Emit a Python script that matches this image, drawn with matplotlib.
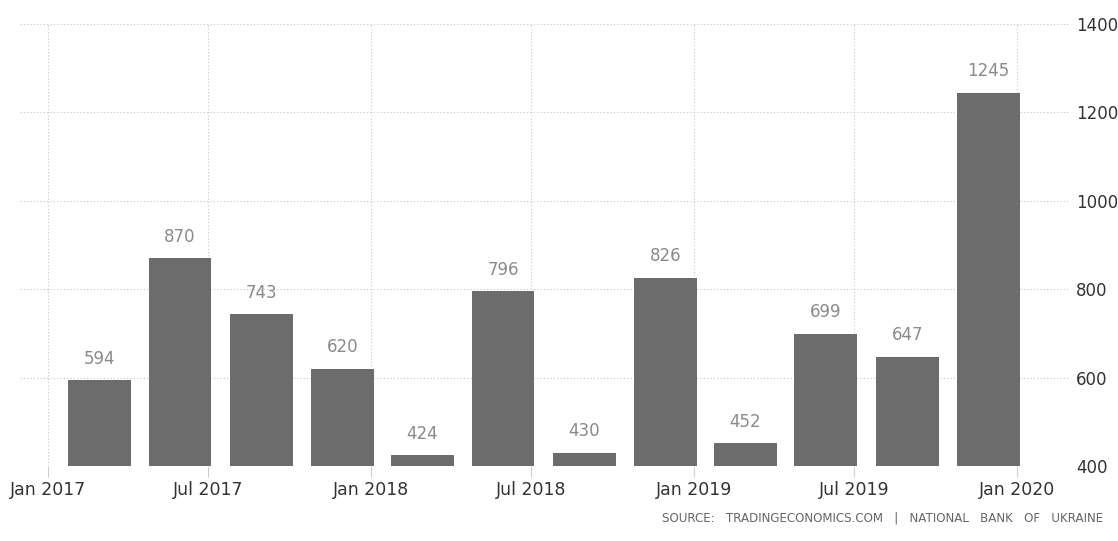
import datetime as dt
import matplotlib
matplotlib.use("Agg")
import matplotlib.pyplot as plt
import matplotlib.dates as mdates

# quarterly values, Q1 2017 .. Q4 2019
quarters = ["2017-03-31", "2017-06-30", "2017-09-30", "2017-12-31",
            "2018-03-31", "2018-06-30", "2018-09-30", "2018-12-31",
            "2019-03-31", "2019-06-30", "2019-09-30", "2019-12-31"]
values = [594, 870, 743, 620, 424, 796, 430, 826, 452, 699, 647, 1245]
tick_dates = ["2017-01-01", "2017-07-01", "2018-01-01", "2018-07-01",
              "2019-01-01", "2019-07-01", "2020-01-01"]

dates = [dt.datetime.strptime(q, "%Y-%m-%d") for q in quarters]
centers = [d - dt.timedelta(days=31) for d in dates]
ticks = [dt.datetime.strptime(t, "%Y-%m-%d") for t in tick_dates]

fig = plt.figure(figsize=(11.18, 5.41), dpi=100)
ax = fig.add_axes([20 / 1118, 75 / 541, 1049 / 1118, (466 - 24) / 541])

ax.bar(centers, [v - 400 for v in values], bottom=400, width=71,
       color="#6c6c6c", zorder=3)
for c, v in zip(centers, values):
    ax.text(c, v + 28, str(v), ha="center", va="bottom",
            fontsize=12, color="#8a8a8a")

ax.set_ylim(400, 1400)
ax.set_yticks([400, 600, 800, 1000, 1200, 1400])
ax.set_xlim(dt.datetime(2016, 11, 30), dt.datetime(2020, 2, 29))
ax.set_xticks(ticks)
ax.xaxis.set_major_formatter(mdates.DateFormatter("%b %Y"))

ax.yaxis.tick_right()
for s in ax.spines.values():
    s.set_visible(False)
ax.grid(True, color="#c4c4c4", linestyle=(0, (1, 2)), linewidth=0.8, zorder=0)
ax.tick_params(axis="y", length=0, pad=5, labelsize=12, labelcolor="#333333")
ax.tick_params(axis="x", length=8, width=0.8, color="#cfcfcf", pad=3,
               labelsize=12.5, labelcolor="#333333")

fig.text(1103 / 1118, 1 - 518 / 541,
         "SOURCE:   TRADINGECONOMICS.COM   |   NATIONAL   BANK   OF   UKRAINE",
         ha="right", va="center", fontsize=8.6, color="#666666")

fig.savefig("out.png", dpi=100)
